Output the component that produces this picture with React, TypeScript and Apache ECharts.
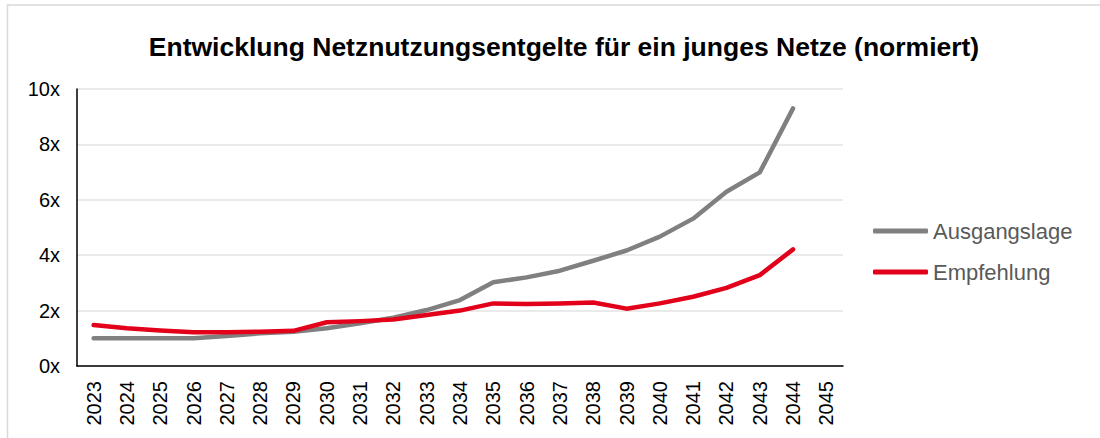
import React, { useEffect, useRef } from "react";
import * as echarts from "echarts";

const years = ["2023","2024","2025","2026","2027","2028","2029","2030","2031","2032","2033","2034","2035","2036","2037","2038","2039","2040","2041","2042","2043","2044","2045"];
const ausgangslage = [1.0,1.0,1.0,1.0,1.08,1.18,1.24,1.36,1.54,1.74,2.02,2.38,3.02,3.2,3.44,3.8,4.17,4.67,5.32,6.29,6.99,9.3,null];
const empfehlung = [1.48,1.36,1.28,1.22,1.22,1.24,1.27,1.58,1.62,1.68,1.84,2.0,2.26,2.24,2.26,2.29,2.07,2.26,2.5,2.82,3.28,4.21,null];
const yTicks = { min: 0, max: 10, interval: 2 };
const title = "Entwicklung Netznutzungsentgelte für ein junges Netze (normiert)";
const seriesNames = ["Ausgangslage", "Empfehlung"];

const FONT = "'Liberation Sans', Arial, sans-serif";

export default function App() {
  const ref = useRef<HTMLDivElement>(null);
  useEffect(() => {
    if (!ref.current) return;
    const chart = echarts.init(ref.current, null, { renderer: "svg" });
    chart.setOption({
      animation: false,
      backgroundColor: "#ffffff",
      textStyle: { fontFamily: FONT },
      title: {
        text: title,
        left: 559,
        textAlign: "center",
        top: 28,
        textStyle: { fontFamily: FONT, fontWeight: "bold", fontSize: 26.5, color: "#000000" },
      },
      graphic: [
        {
          type: "rect",
          shape: { x: 7.5, y: 5, width: 1200, height: 600 },
          style: { fill: "none", stroke: "#d9d9d9", lineWidth: 1.5 },
          silent: true,
        },
      ],
      grid: { left: 77, right: 257, top: 89, bottom: 72, containLabel: false },
      legend: {
        orient: "vertical",
        left: 868,
        top: 215,
        itemWidth: 55,
        itemHeight: 5,
        itemGap: 19,
        icon: "roundRect",
        data: seriesNames,
        textStyle: { fontFamily: FONT, fontSize: 22, color: "#595959", padding: [0, 0, 0, 0] },
      },
      xAxis: {
        type: "category",
        data: years,
        boundaryGap: true,
        axisLine: { lineStyle: { color: "#000000", width: 1.5 } },
        axisTick: { show: false },
        axisLabel: { rotate: 90, margin: 15, fontSize: 20, color: "#000000", fontFamily: FONT, interval: 0 },
      },
      yAxis: {
        type: "value",
        min: yTicks.min,
        max: yTicks.max,
        interval: yTicks.interval,
        axisLine: { show: true, lineStyle: { color: "#000000", width: 1.5 } },
        axisTick: { show: false },
        splitLine: { lineStyle: { color: "#e3e3e3", width: 1.5 } },
        axisLabel: { formatter: "{value}x", fontSize: 20, color: "#000000", fontFamily: FONT, margin: 17 },
      },
      series: [
        {
          name: seriesNames[0],
          type: "line",
          data: ausgangslage,
          showSymbol: false,
          symbol: "none",
          itemStyle: { color: "#808080" },
          lineStyle: { color: "#808080", width: 4.5, cap: "round", join: "round" },
        },
        {
          name: seriesNames[1],
          type: "line",
          data: empfehlung,
          showSymbol: false,
          symbol: "none",
          itemStyle: { color: "#e2001a" },
          lineStyle: { color: "#e2001a", width: 4.5, cap: "round", join: "round" },
        },
      ],
    });
    return () => chart.dispose();
  }, []);
  return (
    <div
      ref={ref}
      style={{ position: "absolute", left: 0, top: 0, width: 1100, height: 438 }}
    />
  );
}
